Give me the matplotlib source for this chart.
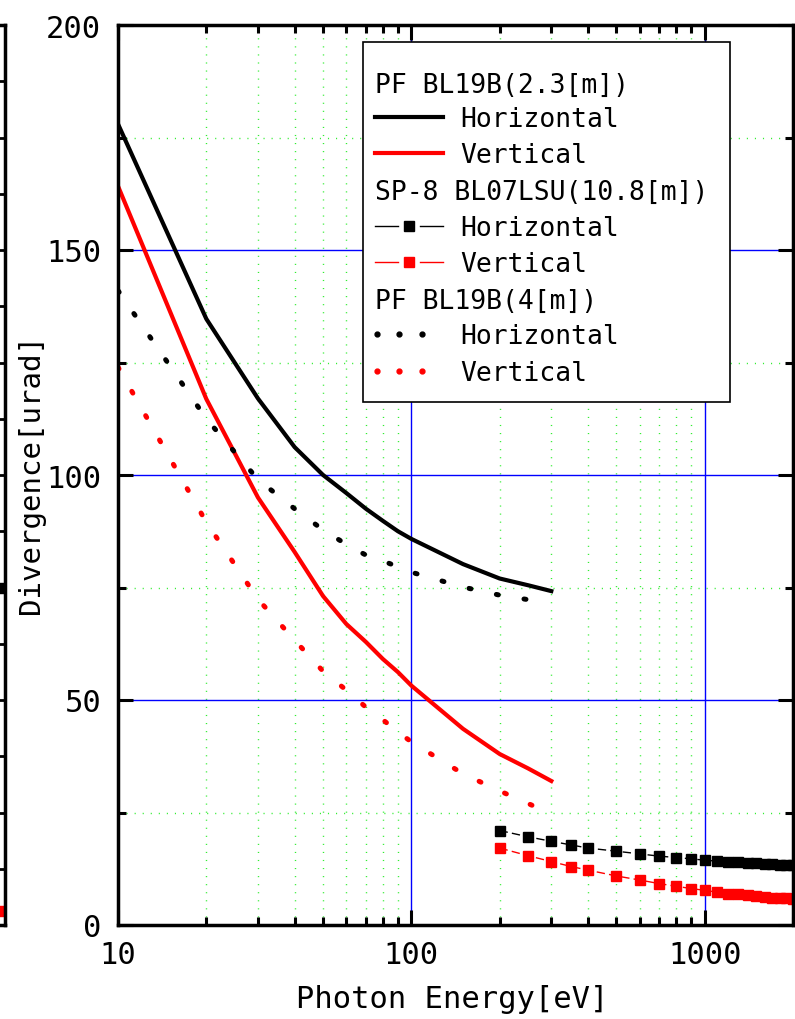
import matplotlib
matplotlib.use('Agg')
import matplotlib.pyplot as plt
from matplotlib import ticker
from matplotlib.lines import Line2D
from matplotlib.patches import Rectangle

plt.rcParams['font.family'] = ['DejaVu Sans Mono']

# PF BL19B, source distance 2.3 m and 4 m
pf_energy = [10, 20, 30, 40, 50, 60, 70, 80, 90, 100, 150, 200, 250, 300]
pf23_h = [178, 134.7, 117, 106.2, 100, 96, 92.5, 89.8, 87.5, 85.8, 80.2, 77, 75.5, 74.2]
pf23_v = [164.2, 116.9, 95, 82.9, 73.1, 66.9, 62.9, 59.1, 56.2, 53.2, 43.6, 38.0, 34.8, 32.0]
pf4_h = [141, 112.5, 99, 92.5, 87.8, 84.6, 82.2, 80.9, 79.6, 78.4, 75.1, 73.3, 72.3, 71.6]
pf4_v = [124, 89.5, 72.4, 63.3, 56.4, 52.2, 48.4, 45.6, 42.9, 40.7, 33.6, 29.8, 27, 24.7]

# SPring-8 BL07LSU (10.8 m)
sp8_energy = [200, 250, 300, 350, 400, 500, 600, 700, 800, 900, 1000,
              1100, 1200, 1300, 1400, 1500, 1600, 1700, 1800, 1900, 2000]
sp8_h = [21.0, 19.6, 18.6, 17.8, 17.1, 16.4, 15.8, 15.3, 15.0, 14.7, 14.4,
         14.2, 14.1, 13.9, 13.8, 13.7, 13.6, 13.5, 13.4, 13.4, 13.3]
sp8_v = [17.1, 15.4, 14.1, 13.0, 12.2, 10.9, 10.0, 9.2, 8.6, 8.1, 7.7,
         7.3, 7.0, 6.8, 6.6, 6.4, 6.3, 6.1, 6.0, 5.9, 5.8]

# edge of the neighbouring panel (cut off at the left)
side_vals = [6.0, 0.25]
side_colors = ['black', 'red']

W, H = 795, 1020
def fx(px):
    return px / W
def fy(py):
    return 1 - py / H

fig = plt.figure(figsize=(W / 100, H / 100), dpi=100)

# neighbouring panel fragment
ax0 = fig.add_axes([fx(5 - 200), fy(926), 200 / W, 900 / H])
ax0.set_xlim(0, 1)
ax0.set_ylim(0, 16)
for v, c in zip(side_vals, side_colors):
    ax0.plot([0.995], [v], 's', color=c, ms=6.5)
ax0.yaxis.set_major_locator(ticker.MultipleLocator(1))
ax0.tick_params(axis='y', which='both', left=False, right=True, direction='in',
                length=4, width=2, labelleft=False)
ax0.tick_params(axis='x', bottom=False, labelbottom=False)
for s in ax0.spines.values():
    s.set_linewidth(2.5)

# main panel
ax = fig.add_axes([fx(118), fy(926), 675 / W, 900 / H])
ax.plot(pf_energy, pf23_h, color='black', lw=3)
ax.plot(pf_energy, pf23_v, color='red', lw=3)
ax.plot(sp8_energy, sp8_h, color='black', lw=1, ls=(0, (6, 3)),
        marker='s', ms=6.5, mec='black')
ax.plot(sp8_energy, sp8_v, color='red', lw=1, ls=(0, (6, 3)),
        marker='s', ms=6.5, mec='red')
ax.plot(pf_energy, pf4_h, color='black', lw=3.6, ls=(0, (0.4, 5.2)),
        dash_capstyle='round')
ax.plot(pf_energy, pf4_v, color='red', lw=3.6, ls=(0, (0.4, 5.2)),
        dash_capstyle='round')

ax.set_xscale('log')
ax.set_xlim(10, 2000)
ax.set_ylim(0, 200)
ax.xaxis.set_major_locator(ticker.FixedLocator([10, 100, 1000]))
ax.xaxis.set_major_formatter(ticker.FixedFormatter(['10', '100', '1000']))
ax.xaxis.set_minor_locator(ticker.LogLocator(base=10, subs=range(2, 10)))
ax.xaxis.set_minor_formatter(ticker.NullFormatter())
ax.yaxis.set_major_locator(ticker.MultipleLocator(50))
ax.yaxis.set_minor_locator(ticker.MultipleLocator(25))

ax.set_axisbelow(True)
ax.grid(which='major', color='blue', lw=1)
ax.grid(which='minor', color='#33ee33', lw=1, ls=(0, (0.8, 5)))

ax.tick_params(which='both', direction='in', top=True, right=True, width=2.2,
               labelsize=22)
ax.tick_params(which='major', length=11)
ax.tick_params(which='minor', length=6)
ax.tick_params(axis='y', pad=12)
ax.tick_params(axis='x', pad=11)
for s in ax.spines.values():
    s.set_linewidth(2.5)

fig.text(fx(452), fy(1000), 'Photon Energy[eV]', fontsize=22,
         ha='center', va='center')
fig.text(fx(31), fy(474), 'Divergence[urad]', fontsize=21, rotation=90,
         ha='center', va='center')

# legend, drawn by hand so section headers sit flush left
fig.add_artist(Rectangle((fx(363), fy(403)), fx(730) - fx(363), fy(43) - fy(403),
                         facecolor='white', edgecolor='black', lw=1.2, zorder=3))
rows = [83.5, 117.5, 153.5, 190, 227, 262.5, 299, 335, 371.5]
labels = ['PF BL19B(2.3[m])', 'Horizontal', 'Vertical',
          'SP-8 BL07LSU(10.8[m])', 'Horizontal', 'Vertical',
          'PF BL19B(4[m])', 'Horizontal', 'Vertical']
for i, (r, lab) in enumerate(zip(rows, labels)):
    x0 = 375 if i % 3 == 0 else 460
    fig.text(fx(x0), fy(r + 9.5), lab, fontsize=19, ha='left', va='baseline',
             zorder=4)

for r, c in [(rows[1], 'black'), (rows[2], 'red')]:
    fig.add_artist(Line2D([fx(375), fx(443)], [fy(r), fy(r)], color=c, lw=3,
                          zorder=4))
for r, c in [(rows[4], 'black'), (rows[5], 'red')]:
    fig.add_artist(Line2D([fx(375), fx(398)], [fy(r), fy(r)], color=c, lw=1,
                          zorder=4))
    fig.add_artist(Line2D([fx(420), fx(443)], [fy(r), fy(r)], color=c, lw=1,
                          zorder=4))
    fig.add_artist(Line2D([fx(409)], [fy(r)], color=c, marker='s', ms=6.5,
                          ls='none', zorder=4))
for r, c in [(rows[7], 'black'), (rows[8], 'red')]:
    fig.add_artist(Line2D([fx(377), fx(399), fx(422)], [fy(r)] * 3, color=c,
                          marker='o', ms=3.5, ls='none', zorder=4))

fig.savefig('out.png', dpi=100)
